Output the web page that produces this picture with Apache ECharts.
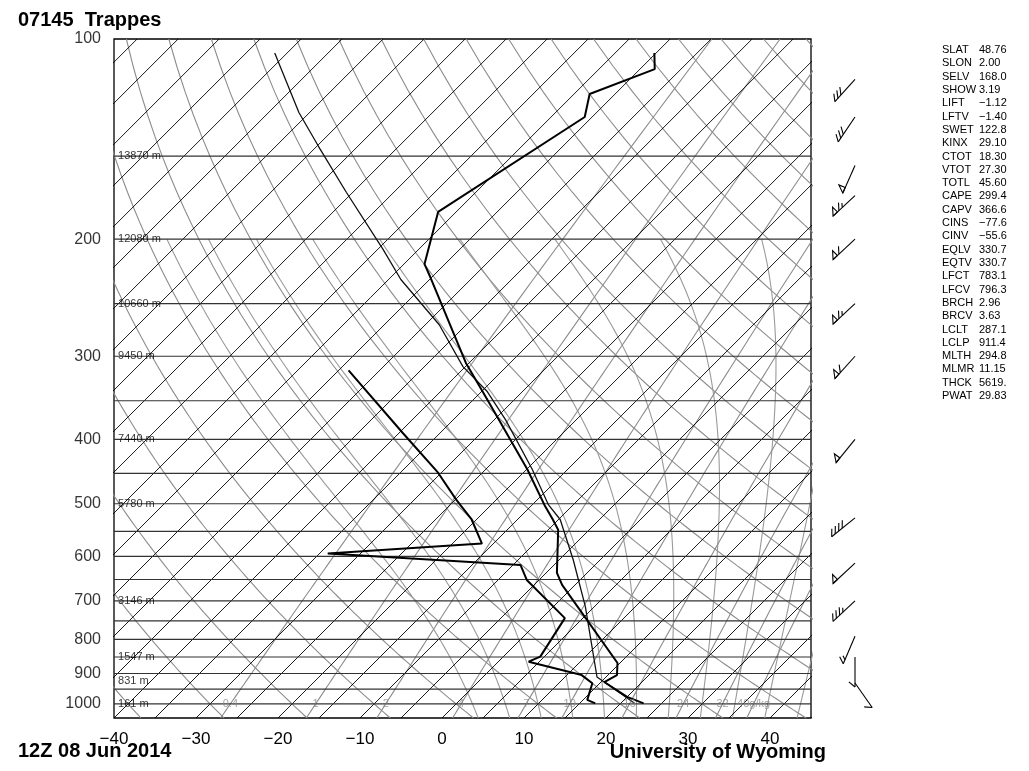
<!DOCTYPE html>
<html>
<head>
<meta charset="utf-8">
<script src="https://cdn.jsdelivr.net/npm/echarts@6.0.0/dist/echarts.min.js"></script>
<style>
  html, body { margin: 0; padding: 0; background: #fff; }
  #chart { width: 1029px; height: 771px; }
</style>
</head>
<body>
<div id="chart"></div>
<script>
// sounding 07145 Trappes, 12Z 08 Jun 2014
const tempP = [998, 976, 927, 905, 868, 662, 635, 547, 528, 502, 444, 374, 337, 307, 229, 218, 182, 131, 121, 111, 105];
const tempT = [22.8, 20.0, 15.4, 16.1, 14.7, -1.6, -3.7, -8.8, -10.7, -13.5, -19.9, -29.4, -35.2, -40.4, -55.0, -57.5, -62.2, -55.9, -58.1, -53.2, -55.2];

const dewP = [998, 986, 931, 905, 864, 849, 743, 651, 618, 594, 574, 528, 493, 449, 391, 315];
const dewT = [16.9, 15.5, 14.1, 11.8, 3.7, 4.5, 2.8, -6.5, -9.1, -34.0, -16.4, -20.6, -24.9, -30.4, -39.6, -53.8];

const parcelP = [998, 911, 714, 607, 528, 502, 444, 374, 339, 311, 269, 230, 207, 170, 145, 129, 105];
const parcelT = [21.7, 13.9, 3.9, -3.3, -9.8, -13.0, -19.3, -28.6, -34.3, -40.3, -48.3, -58.5, -64.4, -75.8, -84.8, -91.3, -101.5];

const windP = [115, 131, 155, 172, 200, 250, 300, 400, 525, 614, 700, 791, 850, 930];
const windDir = [222, 214, 204, 227, 227, 227, 222, 219, 231, 227, 227, 203, 180, 145];
const windSpd = [30, 30, 50, 65, 60, 65, 60, 50, 40, 50, 35, 15, 10, 10];

const pressureTicks = [100, 200, 300, 400, 500, 600, 700, 800, 900, 1000];
const isobars = [150, 200, 250, 300, 350, 400, 450, 500, 550, 600, 650, 700, 750, 800, 850, 900, 950, 1000];
const heightP = [150, 200, 250, 300, 400, 500, 700, 850, 925, 1000];
const heightLabels = ['13870 m', '12080 m', '10660 m', '9450 m', '7440 m', '5780 m', '3146 m', '1547 m', '831 m', '161 m'];
const mixRatios = [0.4, 1, 2, 4, 7, 10, 16, 24, 32, 40];

const statNames = ['SLAT', 'SLON', 'SELV', 'SHOW', 'LIFT', 'LFTV', 'SWET', 'KINX', 'CTOT', 'VTOT', 'TOTL', 'CAPE', 'CAPV',
  'CINS', 'CINV', 'EQLV', 'EQTV', 'LFCT', 'LFCV', 'BRCH', 'BRCV', 'LCLT', 'LCLP', 'MLTH', 'MLMR', 'THCK', 'PWAT'];
const statValues = ['48.76', '2.00', '168.0', '3.19', '\u22121.12', '\u22121.40', '122.8', '29.10', '18.30', '27.30', '45.60', '299.4', '366.6',
  '\u221277.6', '\u221255.6', '330.7', '330.7', '783.1', '796.3', '2.96', '3.63', '287.1', '911.4', '294.8', '11.15', '5619.', '29.83'];

const FONT = '"Liberation Sans", Arial, Helvetica, sans-serif';
const P_BOT = 1050, P_TOP = 100;
const SKEW = 81.1; // degC per decade of pressure, gives 45 degree isotherms

function skewX(t, p) { return t + SKEW * Math.log10(P_BOT / p); }

// thermodynamics for the background lines
function satVap(tc) { return 6.112 * Math.exp(17.67 * tc / (tc + 243.5)); }
function mixT(w, p) {
  const e = w * p / (622 + w);
  const l = Math.log(e / 6.112);
  return 243.5 * l / (17.67 - l);
}
function moistLapse(tc, p) {
  const T = tc + 273.15, es = satVap(tc), rs = 0.622 * es / (p - es);
  const Rd = 287.04, Cp = 1005.7, Lv = 2.501e6;
  return (Rd * T + Lv * rs) / (p * (Cp + Lv * Lv * rs * 0.622 / (Rd * T * T)));
}
function stepMoist(t, p, dp) {
  const k1 = moistLapse(t, p);
  const k2 = moistLapse(t + k1 * dp, p + dp);
  return t + 0.5 * (k1 + k2) * dp;
}
function moistAdiabat(tw, top) {
  let t = tw;
  for (let p = 1000; p < P_BOT; p += 5) t = stepMoist(t, p, 5);
  const pts = [];
  for (let p = P_BOT; p >= top; p -= 5) {
    pts.push([skewX(t, p), p]);
    t = stepMoist(t, p, -5);
  }
  return pts;
}

const levels = [];
for (let p = P_BOT; p >= P_TOP; p -= 10) levels.push(p);
const curve = fn => levels.map(p => [skewX(fn(p), p), p]);
const toXY = (ps, ts) => ps.map((p, i) => [skewX(ts[i], p), p]);

const series = [];
function guide(data, color, width, z) {
  series.push({
    type: 'line', data, symbol: 'none', silent: true, z,
    lineStyle: { color, width }
  });
}

// isotherms
for (let t = -120; t <= 45; t += 5) guide([[skewX(t, P_BOT), P_BOT], [skewX(t, P_TOP), P_TOP]], '#000', 0.9, 3);
// isobars
isobars.forEach(p => guide([[-40, p], [45, p]], '#333', 1.2, 3));
// dry adiabats
for (let th = -40; th <= 180; th += 10) {
  guide(curve(p => (th + 273.15) * Math.pow(p / 1000, 0.2857) - 273.15), '#8c8c8c', 1.1, 2);
}
// moist adiabats
for (let tw = 2; tw <= 42; tw += 4) guide(moistAdiabat(tw, 200), '#9a9a9a', 1.1, 2);
// mixing ratio lines
mixRatios.forEach(w => guide(curve(p => mixT(w, p)), '#8c8c8c', 1.1, 2));

// sounding
series.push({ type: 'line', name: 'parcel', data: toXY(parcelP, parcelT), symbol: 'none', z: 8,
  lineStyle: { color: '#111', width: 1.3 } });
series.push({ type: 'line', name: 'dewpoint', data: toXY(dewP, dewT), symbol: 'none', z: 9,
  lineStyle: { color: '#000', width: 2 } });
series.push({ type: 'line', name: 'temperature', data: toXY(tempP, tempT), symbol: 'none', z: 9,
  lineStyle: { color: '#000', width: 2 } });

// label helpers
function labels(data, texts, label) {
  series.push({
    type: 'scatter', data, symbolSize: 0.1, clip: false, silent: true, z: 12,
    itemStyle: { color: 'transparent' },
    label: Object.assign({ show: true, formatter: pr => texts[pr.dataIndex] }, label)
  });
}
labels(pressureTicks.map(p => [-40, p]), pressureTicks.map(String),
  { position: 'left', distance: 13, fontSize: 16, color: '#000', fontFamily: FONT });
labels(heightP.map(p => [-40, p]), heightLabels,
  { position: 'right', distance: 4, fontSize: 11, color: '#000', fontFamily: FONT });
labels(mixRatios.map(w => [skewX(mixT(w, 1000), 1000), 1000]),
  mixRatios.map((w, i) => i === mixRatios.length - 1 ? w + 'g/kg' : String(w)),
  { position: 'inside', fontSize: 11, color: '#8a8a8a', fontFamily: FONT });

// wind barbs
function renderBarb(params, api) {
  const pt = api.coord([api.value(0), api.value(1)]);
  const a = api.value(2) * Math.PI / 180;
  const spd = api.value(3);
  const ux = Math.sin(a), uy = -Math.cos(a);
  const fa = Math.atan2(uy, ux) + 130 * Math.PI / 180;
  const fx = Math.cos(fa), fy = Math.sin(fa);
  const L = 30;
  const at = d => [pt[0] + ux * d, pt[1] + uy * d];
  const style = { stroke: '#000', lineWidth: 1.1, fill: 'none' };
  const end = at(L);
  const kids = [{ type: 'line', shape: { x1: pt[0], y1: pt[1], x2: end[0], y2: end[1] }, style }];
  let s = Math.round(spd / 5) * 5, d = L;
  while (s >= 50) {
    const p0 = at(d), p1 = at(d - 6);
    kids.push({ type: 'polygon', shape: { points: [p0, [p0[0] + fx * 9, p0[1] + fy * 9], p1] }, style });
    d -= 8; s -= 50;
  }
  while (s >= 10) {
    const p0 = at(d);
    kids.push({ type: 'line', shape: { x1: p0[0], y1: p0[1], x2: p0[0] + fx * 8, y2: p0[1] + fy * 8 }, style });
    d -= 4.5; s -= 10;
  }
  if (s >= 5) {
    const p0 = at(d);
    kids.push({ type: 'line', shape: { x1: p0[0], y1: p0[1], x2: p0[0] + fx * 4.5, y2: p0[1] + fy * 4.5 }, style });
  }
  return { type: 'group', children: kids };
}
series.push({
  type: 'custom', xAxisIndex: 1, yAxisIndex: 1, clip: false, silent: true, z: 10,
  encode: { x: 0, y: 1 },
  data: windP.map((p, i) => [0.5, p, windDir[i], windSpd[i]]),
  renderItem: renderBarb
});

// text blocks
const graphic = [
  { type: 'text', x: 18, y: 20, silent: true,
    style: { text: '07145  Trappes', fontSize: 20, fontWeight: 'bold', fontFamily: FONT, fill: '#000', verticalAlign: 'middle' } },
  { type: 'text', x: 18, y: 751, silent: true,
    style: { text: '12Z 08 Jun 2014', fontSize: 20, fontWeight: 'bold', fontFamily: FONT, fill: '#000', verticalAlign: 'middle' } },
  { type: 'text', x: 826, y: 752, silent: true,
    style: { text: 'University of Wyoming', fontSize: 20, fontWeight: 'bold', fontFamily: FONT, fill: '#000', align: 'right', verticalAlign: 'middle' } }
];
statNames.forEach((n, i) => {
  const y = 50 + i * 13.31;
  graphic.push({ type: 'text', x: 942, y, silent: true,
    style: { text: n, fontSize: 11, fontFamily: FONT, fill: '#000', verticalAlign: 'middle' } });
  graphic.push({ type: 'text', x: 979, y, silent: true,
    style: { text: statValues[i], fontSize: 11, fontFamily: FONT, fill: '#000', verticalAlign: 'middle' } });
});

const chart = echarts.init(document.getElementById('chart'), null, { renderer: 'canvas' });
chart.setOption({
  animation: false,
  backgroundColor: '#fff',
  textStyle: { fontFamily: FONT },
  grid: [
    { left: 114, top: 39, width: 697, height: 679, show: true, borderColor: '#000', borderWidth: 1.3,
      backgroundColor: 'transparent', outerBoundsMode: 'none' },
    { left: 830, top: 39, width: 50, height: 679, outerBoundsMode: 'none' }
  ],
  xAxis: [
    {
      type: 'value', gridIndex: 0, min: -40, max: 45, interval: 10,
      axisLine: { show: false }, axisTick: { show: false }, splitLine: { show: false },
      axisLabel: {
        fontSize: 17, color: '#000', margin: 13, fontFamily: FONT,
        formatter: v => v > 40 ? '' : (v < 0 ? '\u2212' + (-v) : String(v))
      }
    },
    { type: 'value', gridIndex: 1, min: 0, max: 1, show: false }
  ],
  yAxis: [
    {
      type: 'log', gridIndex: 0, logBase: 10, min: P_TOP, max: P_BOT, inverse: true,
      axisLine: { show: false }, axisTick: { show: false }, axisLabel: { show: false }, splitLine: { show: false }
    },
    { type: 'log', gridIndex: 1, logBase: 10, min: P_TOP, max: P_BOT, inverse: true, show: false }
  ],
  graphic,
  series
});
</script>
</body>
</html>
